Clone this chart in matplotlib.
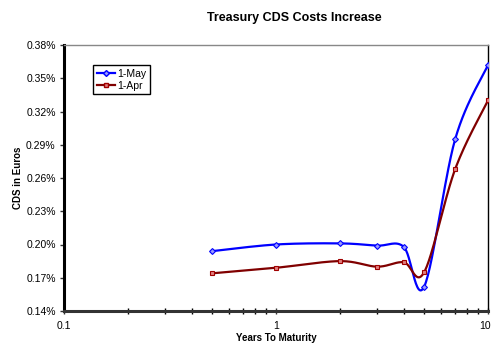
import numpy as np
import matplotlib.pyplot as plt
from matplotlib.transforms import ScaledTranslation
from matplotlib.ticker import FixedLocator, FixedFormatter, LogLocator, NullFormatter

plt.rcParams['font.family'] = ['Liberation Sans', 'DejaVu Sans']

# data (years to maturity, CDS in % )
years = [0.5, 1, 2, 3, 4, 5, 7, 10]
may = [0.194, 0.200, 0.201, 0.199, 0.198, 0.162, 0.295, 0.362]
apr = [0.174, 0.179, 0.185, 0.180, 0.184, 0.175, 0.268, 0.330]
yticks = [0.14, 0.17, 0.20, 0.23, 0.26, 0.29, 0.32, 0.35, 0.38]


def smooth(xs, ys, n=30):
    # Excel style smoothed line (bezier through points, in log-x space)
    lx = np.log10(xs)
    ys = np.asarray(ys, float)
    px, py = [], []
    for i in range(len(lx) - 1):
        p0 = (lx[max(i - 1, 0)], ys[max(i - 1, 0)])
        p1 = (lx[i], ys[i])
        p2 = (lx[i + 1], ys[i + 1])
        p3 = (lx[min(i + 2, len(lx) - 1)], ys[min(i + 2, len(lx) - 1)])
        c1 = (p1[0] + (p2[0] - p0[0]) / 6, p1[1] + (p2[1] - p0[1]) / 6)
        c2 = (p2[0] - (p3[0] - p1[0]) / 6, p2[1] - (p3[1] - p1[1]) / 6)
        t = np.linspace(0, 1, n)
        bx = (1-t)**3*p1[0] + 3*(1-t)**2*t*c1[0] + 3*(1-t)*t**2*c2[0] + t**3*p2[0]
        by = (1-t)**3*p1[1] + 3*(1-t)**2*t*c1[1] + 3*(1-t)*t**2*c2[1] + t**3*p2[1]
        px.extend(bx)
        py.extend(by)
    return 10 ** np.array(px), np.array(py)


fig = plt.figure(figsize=(4.92, 3.44), dpi=100)
ax = fig.add_axes([64/492, 1 - 311/344, 424/492, 266/344])

sx, sy = smooth(years, may)
ax.plot(sx, sy, color='#0000FF', lw=1.6, zorder=3)
ax.plot(years, may, ls='none', marker='D', ms=3, mfc='#9999FF', mec='#0000FF', mew=0.8, zorder=4)
sx, sy = smooth(years, apr)
ax.plot(sx, sy, color='#800000', lw=1.6, zorder=3)
ax.plot(years, apr, ls='none', marker='s', ms=3.5, mfc='#E08080', mec='#A00000', mew=0.8, zorder=4)

# legend entries
ax.plot([], [], color='#0000FF', lw=1.6, marker='D', ms=3, mfc='#9999FF', mec='#0000FF', label='1-May')
ax.plot([], [], color='#800000', lw=1.6, marker='s', ms=3.5, mfc='#E08080', mec='#A00000', label='1-Apr')
leg = ax.legend(loc='upper left', bbox_to_anchor=(29/424, 1 - 20/266), fontsize=7.5,
                frameon=True, fancybox=False, framealpha=1, edgecolor='black',
                handlelength=1.8, handletextpad=0.2, borderpad=0.35, labelspacing=0.2,
                borderaxespad=0)
leg.get_frame().set_linewidth(1)

ax.set_xscale('log')
ax.set_xlim(0.1, 10)
ax.set_ylim(0.14, 0.38)
ax.xaxis.set_major_locator(FixedLocator([0.1, 1, 10]))
ax.xaxis.set_major_formatter(FixedFormatter(['0.1', '1', '10']))
ax.xaxis.set_minor_locator(LogLocator(base=10, subs=np.arange(2, 10)))
ax.xaxis.set_minor_formatter(NullFormatter())
ax.yaxis.set_major_locator(FixedLocator(yticks))
ax.set_yticklabels(['%.2f%%' % v for v in yticks])

ax.tick_params(axis='both', labelsize=7.5, colors='#333333', labelcolor='black')
ax.tick_params(axis='x', which='major', direction='inout', length=5, width=1, pad=5)
ax.tick_params(axis='x', which='minor', direction='inout', length=4, width=1)
ax.tick_params(axis='y', which='major', direction='out', length=3, width=1, pad=3)

# keep the "10" label inside the picture
lab = ax.get_xticklabels()[-1]
lab.set_ha('right')
lab.set_transform(lab.get_transform() + ScaledTranslation(3/100, 0, fig.dpi_scale_trans))

ax.spines['left'].set_linewidth(2.2)
ax.spines['left'].set_color('black')
ax.spines['bottom'].set_linewidth(2.2)
ax.spines['bottom'].set_color('#333333')
ax.spines['top'].set_linewidth(1)
ax.spines['top'].set_color('#888888')
ax.spines['right'].set_linewidth(1)
ax.spines['right'].set_color('black')

fig.text(276/492, 1 - 338/344, 'Years To Maturity', ha='center', va='center',
         fontsize=7, fontweight='bold')
fig.text(18/492, 1 - 178/344, 'CDS in Euros', ha='center', va='center', rotation=90,
         fontsize=7, fontweight='bold')
fig.text(294/492, 1 - 18/344, 'Treasury CDS Costs Increase', ha='center', va='center',
         fontsize=9, fontweight='bold')

fig.savefig('out.png', dpi=100)
